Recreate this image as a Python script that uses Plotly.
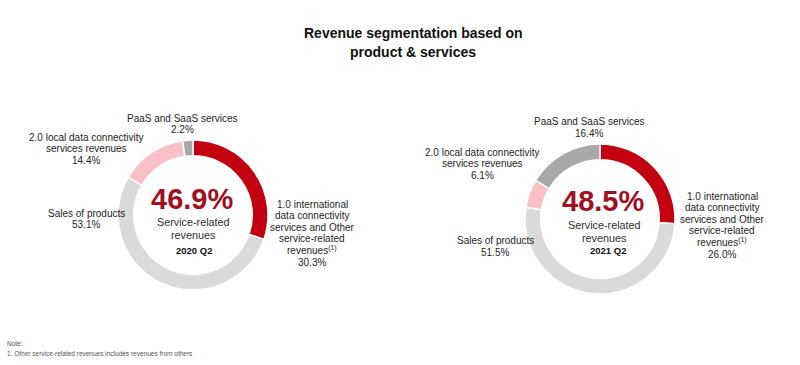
import plotly.graph_objects as go

# ---- data ----
segments = [
    "1.0 international<br>data connectivity<br>services and Other<br>service-related<br>revenues<sup>(1)</sup>",
    "Sales of products",
    "2.0 local data connectivity<br>services revenues",
    "PaaS and SaaS services",
]
service_flags = [True, False, True, True]
values_2020q2 = [30.3, 53.1, 14.4, 2.2]
values_2021q2 = [26.0, 51.5, 6.1, 16.4]
periods = ["2020 Q2", "2021 Q2"]
colors = ["#C3000F", "#DADADA", "#FBC0C6", "#A8A8A8"]

W, H = 800, 365
FONT = "Liberation Sans, Arial, sans-serif"
LINE = 11.6


def px(x, y):
    return x / W, 1 - y / H


fig = go.Figure()

pies = [
    dict(vals=values_2020q2, cx=193, cy=215, r=75),
    dict(vals=values_2021q2, cx=600, cy=219, r=75),
]
for p in pies:
    fig.add_trace(go.Pie(
        values=p["vals"], labels=[s.replace("<br>", " ") for s in segments],
        sort=False, direction="clockwise", rotation=0, hole=0.79,
        marker=dict(colors=colors, line=dict(color="white", width=1.5)),
        textinfo="none", hoverinfo="label+percent", showlegend=False,
        domain=dict(x=[(p["cx"] - p["r"]) / W, (p["cx"] + p["r"]) / W],
                    y=[1 - (p["cy"] + p["r"]) / H, 1 - (p["cy"] - p["r"]) / H]),
    ))

annotations = []


def ann(text, x, y, size, color="#1E1E1E", bold=False, xanchor="center"):
    ax, ay = px(x, y)
    if bold:
        text = "<b>" + text + "</b>"
    annotations.append(dict(text=text, x=ax, y=ay, xref="paper", yref="paper",
                            xanchor=xanchor, yanchor="middle", showarrow=False,
                            font=dict(size=size, color=color, family=FONT)))


def ann_lines(text, x, y_first, size, step, **kw):
    for j, line in enumerate(text.split("<br>")):
        ann(line, x, y_first + j * step, size, **kw)


# title
ann_lines("Revenue segmentation based on<br>product & services", 413, 33, 14, 19,
          color="#111111", bold=True)

# first-line positions (pixel centres) for [service1, products, local, paas]
label_pos = [
    [(312, 204), (86, 213), (86, 137), (182, 118)],
    [(722, 196), (495, 241), (482, 152), (589, 122)],
]
center_pos = [(192, 199, 193, 222, 194, 251), (603, 201, 604, 225, 608, 251)]

for k, vals in enumerate([values_2020q2, values_2021q2]):
    for i, seg in enumerate(segments):
        x, y = label_pos[k][i]
        ann_lines(f"{seg}<br>{vals[i]:.1f}%", x, y, 10, LINE)
    total = sum(v for v, f in zip(vals, service_flags) if f)
    bx, by, sx, sy, qx, qy = center_pos[k]
    ann(f"{total:.1f}%", bx, by, 29, color="#A0101E", bold=True)
    ann_lines("Service-related<br>revenues", sx, sy, 10.8, 12.8, color="#2E2E2E")
    ann(periods[k], qx, qy, 9.5, color="#111111", bold=True)

# note
ann("Note:", 5, 343, 6.5, color="#555555", xanchor="left")
ann("1. Other service-related revenues includes revenues from others", 5, 353, 6.5,
    color="#555555", xanchor="left")

fig.update_layout(
    width=W, height=H, margin=dict(l=0, r=0, t=0, b=0),
    paper_bgcolor="white", plot_bgcolor="white",
    font=dict(family=FONT, color="#262626"),
    annotations=annotations,
)

fig.write_html("out.html", config={"displayModeBar": False},
               post_script="document.body.style.margin='0';")
